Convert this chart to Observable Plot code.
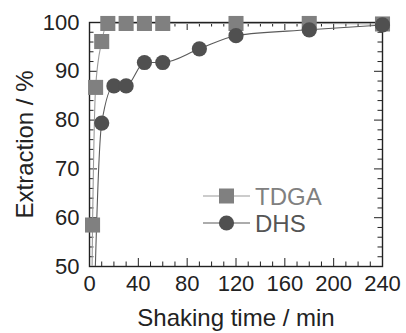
<!DOCTYPE html>
<html>
<head>
<meta charset="utf-8">
<script src="https://cdn.jsdelivr.net/npm/d3@7"></script>
<script src="https://cdn.jsdelivr.net/npm/@observablehq/plot@0.6"></script>
<style>
  html, body { margin: 0; padding: 0; background: #fff; }
  #wrap { position: relative; width: 406px; height: 333px; font-family: "Liberation Sans", Arial, sans-serif; }
  #legend { position: absolute; left: 0; top: 0; }
</style>
</head>
<body>
<div id="wrap"></div>
<script>
// Data (origin point used only for the smooth lead-in line)
const seriesNames = ["TDGA", "DHS"];
const tdgaTime = [0, 2.5, 5, 10, 15, 30, 45, 60, 120, 180, 240];
const tdgaExtraction = [0, 58.5, 86.7, 96.1, 99.8, 99.8, 99.8, 99.8, 99.8, 99.8, 99.7];
const dhsTime = [0, 10, 20, 30, 45, 60, 90, 120, 180, 240];
const dhsExtraction = [0, 79.4, 87.0, 87.0, 91.8, 91.8, 94.6, 97.3, 98.5, 99.5];
const xTickLabels = [0, 40, 80, 120, 160, 200, 240];
const yTickLabels = [50, 60, 70, 80, 90, 100];
const xMinorTicks = d3.range(0, 241, 10);
const yMinorTicks = d3.range(50, 100.1, 2);

const tdga = tdgaTime.map((t, i) => ({t, v: tdgaExtraction[i]}));
const dhs = dhsTime.map((t, i) => ({t, v: dhsExtraction[i]}));
const tdgaPts = tdga.filter(d => d.v >= 50);
const dhsPts = dhs.filter(d => d.v >= 50);

const colTDGA = "#808080", colTDGAline = "#9a9a9a";
const colDHS = "#505050", colDHSline = "#5a5a5a";

const W = 406, H = 333, mL = 89, mR = 24, mT = 22, mB = 67;
const kx = (W - mL - mR) / 240; // px per minute
const ky = (H - mB - mT) / 50;  // px per percent

const xMajorSet = new Set(xTickLabels);
const yMajorSet = new Set(yTickLabels);
const xt = xMinorTicks.map(x => ({x, len: xMajorSet.has(x) ? 8 : 4.5}));
const yt = yMinorTicks.map(y => ({y, len: (Math.abs(y - Math.round(y)) < 1e-6 && yMajorSet.has(Math.round(y))) ? 8 : 4.5}));

const chart = Plot.plot({
  width: W, height: H,
  marginLeft: mL, marginRight: mR, marginTop: mT, marginBottom: mB,
  style: {fontFamily: "Liberation Sans, Arial, sans-serif", fontSize: "22px", color: "#222", background: "#fff"},
  x: {domain: [0, 240]},
  y: {domain: [50, 100]},
  marks: [
    Plot.axisX({ticks: xTickLabels, tickSize: 0, tickPadding: 9, label: null, fontSize: 22, tickFormat: d => String(d)}),
    Plot.axisY({ticks: yTickLabels, tickSize: 0, tickPadding: 10, label: null, fontSize: 22, tickFormat: d => String(d)}),
    Plot.ruleX(xt, {x: "x", y1: 50, y2: d => 50 + d.len / ky, stroke: "#222", strokeWidth: 1}),
    Plot.ruleX(xt, {x: "x", y1: 100, y2: d => 100 - d.len / ky, stroke: "#222", strokeWidth: 1}),
    Plot.ruleY(yt, {y: "y", x1: 0, x2: d => d.len / kx, stroke: "#222", strokeWidth: 1}),
    Plot.ruleY(yt, {y: "y", x1: 240, x2: d => 240 - d.len / kx, stroke: "#222", strokeWidth: 1}),
    Plot.frame({stroke: "#222", strokeWidth: 1.4}),
    Plot.line(tdga, {x: "t", y: "v", curve: "monotone-x", stroke: colTDGAline, strokeWidth: 1.1, clip: true}),
    Plot.line(dhs, {x: "t", y: "v", curve: "monotone-x", stroke: colDHSline, strokeWidth: 1.1, clip: true}),
    Plot.dot(tdgaPts, {x: "t", y: "v", symbol: "square", r: 8.5, fill: colTDGA, stroke: "none"}),
    Plot.dot(dhsPts, {x: "t", y: "v", symbol: "circle", r: 7.6, fill: colDHS, stroke: "none"}),
    Plot.text(["Shaking time / min"], {frameAnchor: "bottom", dy: 59, fontSize: 24, fill: "#222"}),
    Plot.text(["Extraction / %"], {frameAnchor: "left", dx: -64, rotate: -90, textAnchor: "middle", lineAnchor: "middle", fontSize: 24, fill: "#222"})
  ]
});
document.getElementById("wrap").appendChild(chart);

// Legend overlay
const legend = d3.select("#wrap").append("svg").attr("id", "legend")
  .attr("width", W).attr("height", H)
  .style("font-family", "Liberation Sans, Arial, sans-serif");
const legendRows = [
  {name: seriesNames[0], line: colTDGAline, fill: colTDGA, sym: "square", text: "#808080", y: 196},
  {name: seriesNames[1], line: colDHSline, fill: colDHS, sym: "circle", text: "#555", y: 223}
];
legendRows.forEach(r => {
  legend.append("line").attr("x1", 203).attr("x2", 250).attr("y1", r.y).attr("y2", r.y)
    .attr("stroke", r.line).attr("stroke-width", 1.1);
  if (r.sym === "square") {
    legend.append("rect").attr("x", 226.5 - 7.5).attr("y", r.y - 7.5).attr("width", 15).attr("height", 15).attr("fill", r.fill);
  } else {
    legend.append("circle").attr("cx", 226.5).attr("cy", r.y).attr("r", 7.6).attr("fill", r.fill);
  }
  legend.append("text").attr("x", 255).attr("y", r.y).attr("dy", "0.36em")
    .attr("font-size", 24).attr("fill", r.text).text(r.name);
});
</script>
</body>
</html>
